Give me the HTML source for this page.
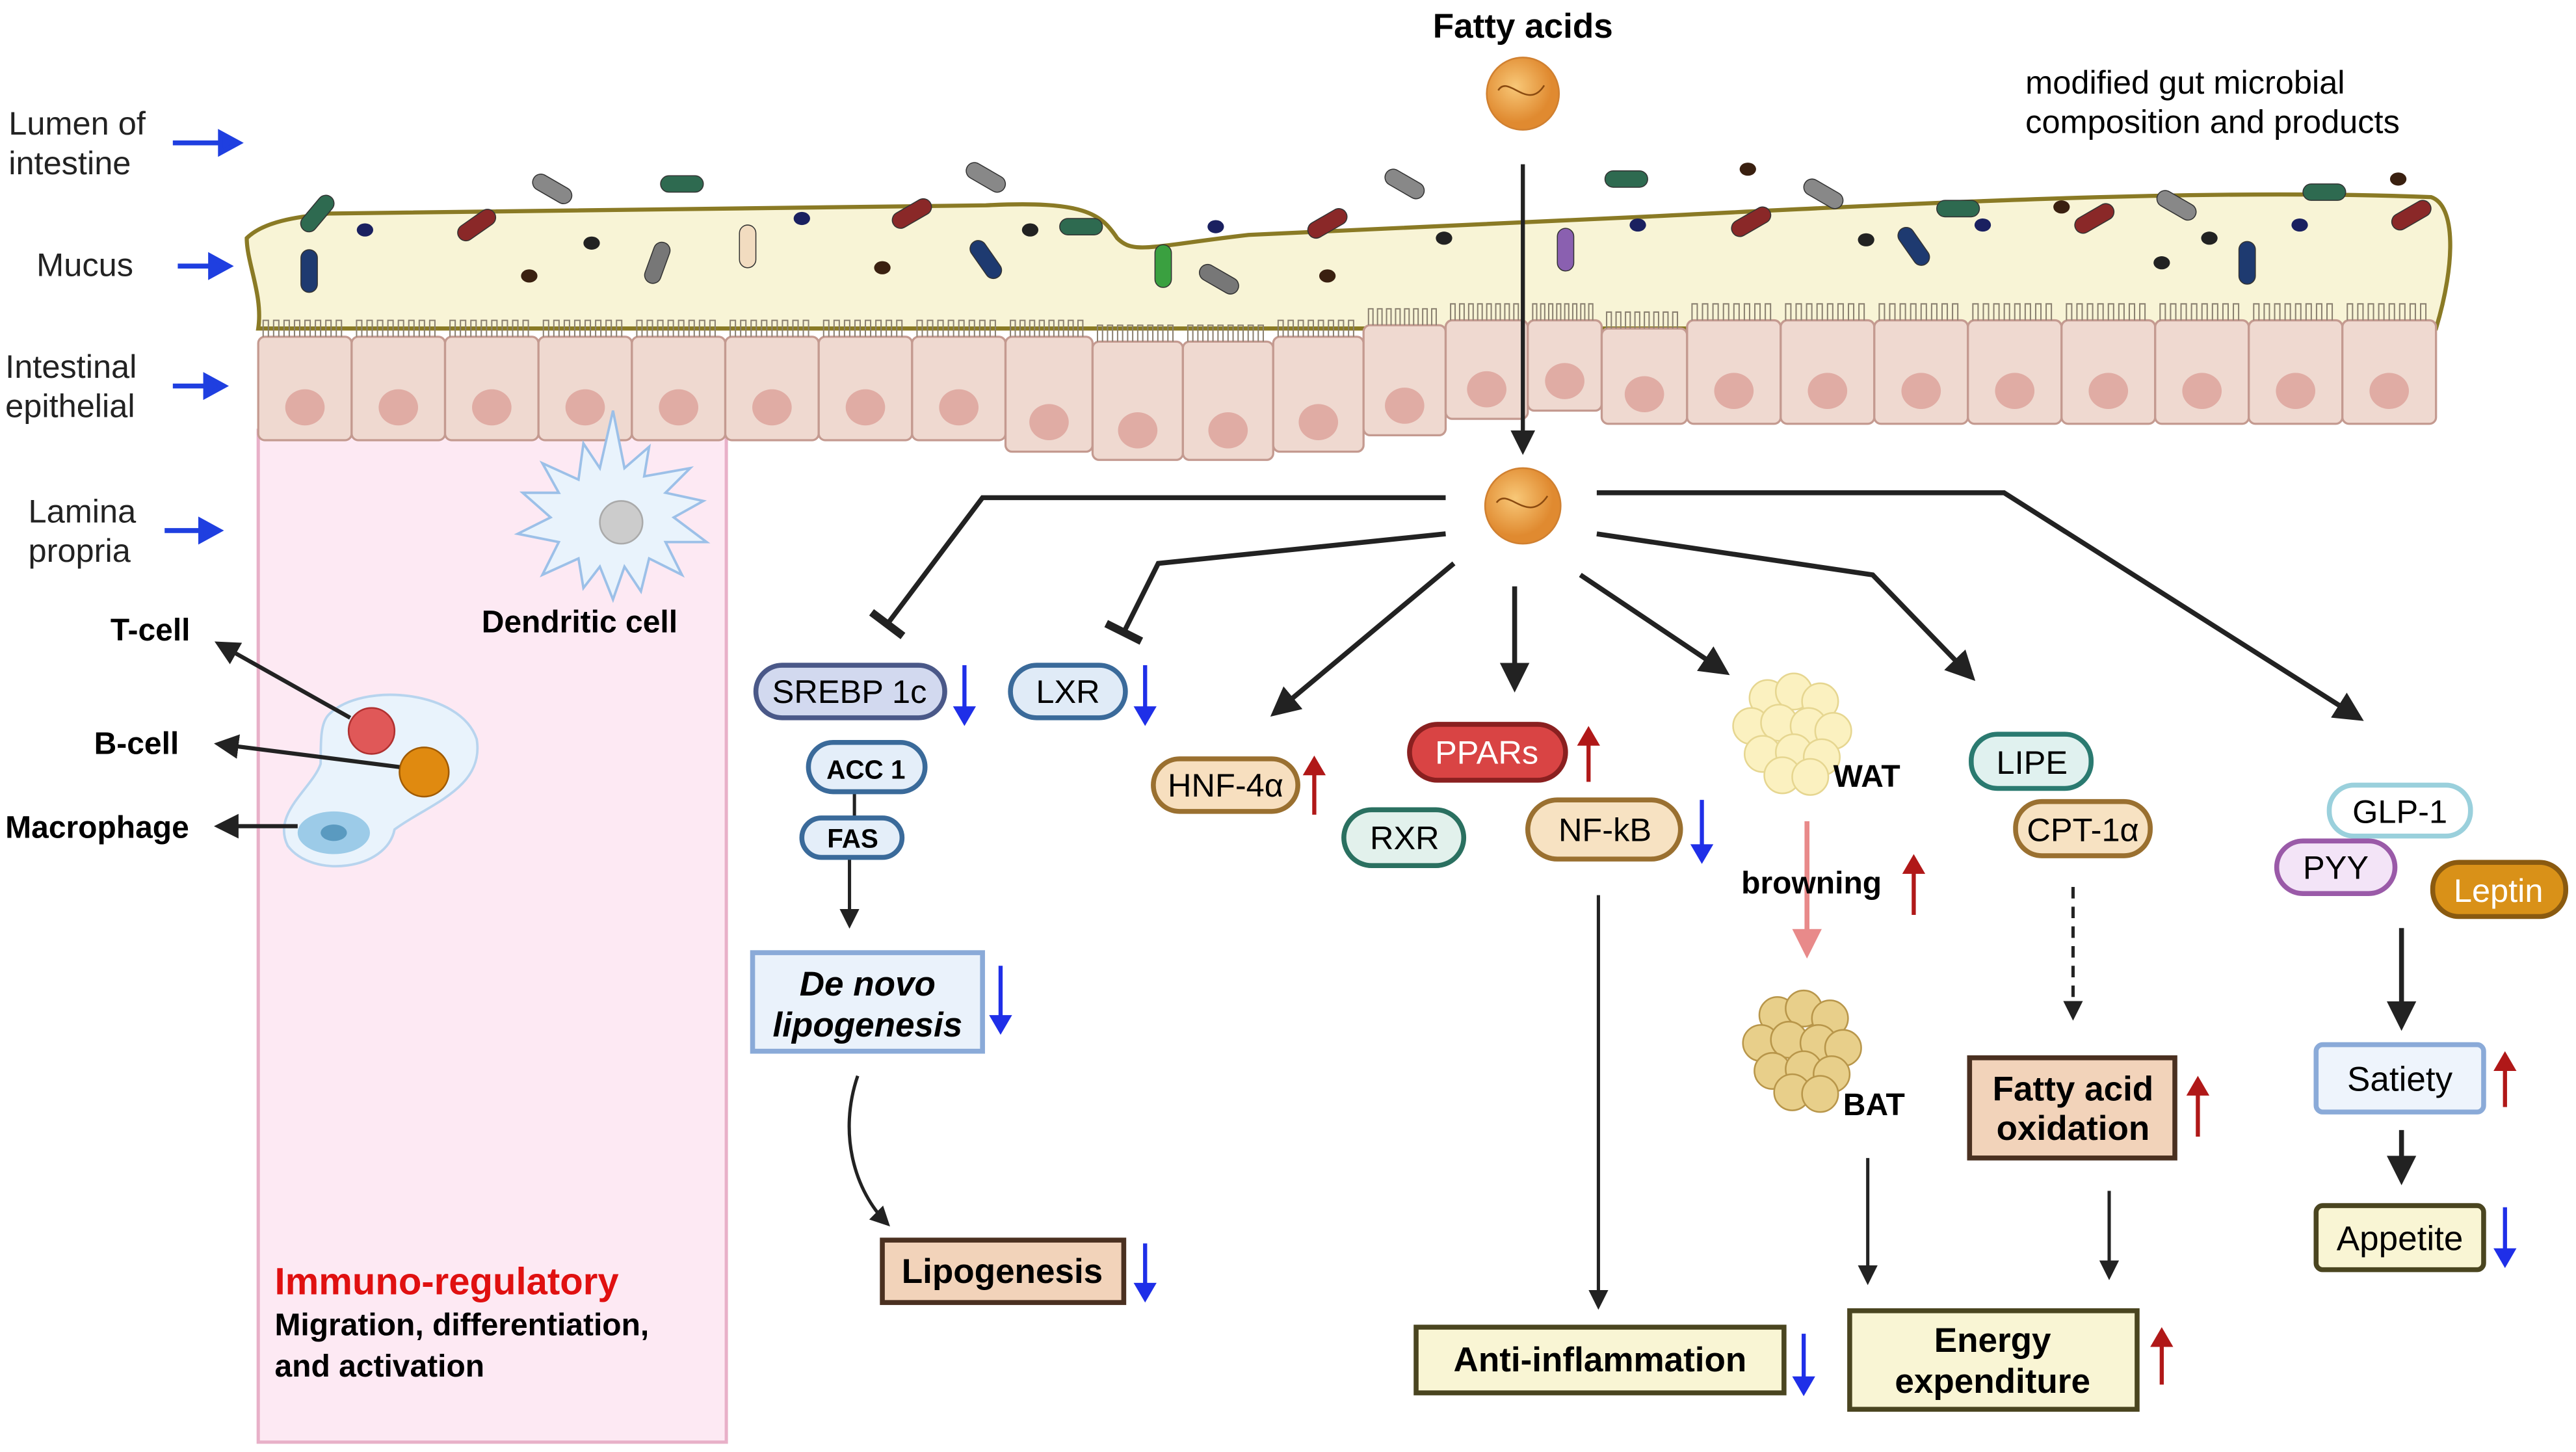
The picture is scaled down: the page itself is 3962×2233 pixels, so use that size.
<!DOCTYPE html>
<html><head><meta charset="utf-8"><style>
html,body{margin:0;padding:0;background:#fff;}
svg{display:block;}
text{font-family:"Liberation Sans",Arial,sans-serif;}
</style></head><body>
<svg id="s" width="3962" height="2233" viewBox="0 0 1568 884" xmlns="http://www.w3.org/2000/svg">
<defs>
<marker id="ah" viewBox="0 0 10 10" refX="8" refY="5" markerWidth="6" markerHeight="6" orient="auto"><path d="M0,0L10,5L0,10z" fill="#222"/></marker>
<marker id="tb" viewBox="0 0 10 10" refX="5" refY="5" markerWidth="8" markerHeight="8" orient="auto"><path d="M5,0L5,10" stroke="#222" stroke-width="2"/></marker>
<marker id="ahp" viewBox="0 0 10 10" refX="8" refY="5" markerWidth="6" markerHeight="6" orient="auto"><path d="M0,0L10,5L0,10z" fill="#e88a8a"/></marker>
<radialGradient id="fa" cx="0.4" cy="0.4"><stop offset="0" stop-color="#f8c878"/><stop offset="1" stop-color="#e08a30"/></radialGradient>
</defs>
<rect x="157" y="262" width="285" height="616" fill="#fde9f3" stroke="#e8b0c8" stroke-width="2"/>
<path d="M150,145 C160,135 180,132 200,130 L600,125 C660,122 670,130 680,145 C690,155 700,150 760,143 L1000,132 C1200,122 1350,115 1480,120 C1495,125 1495,160 1483,200 L157,200 C160,180 150,160 150,145z" fill="#f8f4d6" stroke="#8a7a25" stroke-width="2.5"/>
<g id="cells"></g>
<g id="bugs"></g>
<g font-size="20" fill="#222">
<text x="5" y="82">Lumen of</text><text x="5" y="106">intestine</text>
<text x="22" y="168">Mucus</text>
<text x="3" y="230">Intestinal</text><text x="3" y="254">epithelial</text>
<text x="17" y="318">Lamina</text><text x="17" y="342">propria</text>
</g>
<g stroke="#1f3fe0" stroke-width="3" fill="#1f3fe0">
<line x1="105" y1="87" x2="136" y2="87"/><path d="M145,87L134,81L134,93z"/>
<line x1="108" y1="162" x2="130" y2="162"/><path d="M139,162L128,156L128,168z"/>
<line x1="105" y1="235" x2="127" y2="235"/><path d="M136,235L125,229L125,241z"/>
<line x1="100" y1="323" x2="124" y2="323"/><path d="M133,323L122,317L122,329z"/>
</g>
<path d="M373,250 L380,285 L395,272 L392,290 L420,285 L405,300 L428,305 L410,315 L430,330 L405,330 L415,350 L395,340 L390,360 L380,345 L373,365 L365,345 L355,358 L352,340 L330,350 L340,330 L315,325 L335,315 L318,300 L340,300 L330,282 L352,292 L355,270 L365,285z" fill="#e9f3fc" stroke="#9cc0e8" stroke-width="1.5"/>
<circle cx="378" cy="318" r="13" fill="#ccc" stroke="#aaa"/>
<text x="293" y="385" font-size="19" font-weight="bold">Dendritic cell</text>
<path d="M200,435 C220,415 280,420 290,450 C295,480 260,490 240,505 C235,530 190,535 175,515 C165,495 190,480 195,465 C195,450 195,440 200,435z" fill="#e9f3fc" stroke="#b8d4ee" stroke-width="1.5"/>
<circle cx="226" cy="445" r="14" fill="#e05858" stroke="#b03030"/>
<circle cx="258" cy="470" r="15" fill="#e08a10" stroke="#a05a00"/>
<ellipse cx="203" cy="507" rx="22" ry="13" fill="#9ccbe8"/><ellipse cx="203" cy="507" rx="8" ry="5" fill="#5a9ac0"/>
<g stroke="#222" stroke-width="2.5" fill="none">
<line x1="213" y1="437" x2="133" y2="392" marker-end="url(#ah)"/>
<line x1="243" y1="467" x2="133" y2="453" marker-end="url(#ah)"/>
<line x1="181" y1="503" x2="133" y2="503" marker-end="url(#ah)"/>
</g>
<g font-size="19" font-weight="bold"><text x="67" y="390">T-cell</text><text x="57" y="459">B-cell</text><text x="3" y="510">Macrophage</text></g>
<text x="167" y="788" font-size="23" font-weight="bold" fill="#e01010">Immuno-regulatory</text>
<text x="167" y="813" font-size="19" font-weight="bold">Migration, differentiation,</text>
<text x="167" y="838" font-size="19" font-weight="bold">and activation</text>
<text x="927" y="23" font-size="21" font-weight="bold" text-anchor="middle">Fatty acids</text>
<circle cx="927" cy="57" r="22" fill="url(#fa)" stroke="#d08030"/>
<path d="M912,55 C918,45 930,68 940,52" stroke="#8a4a10" fill="none"/>
<line x1="927" y1="100" x2="927" y2="274" stroke="#222" stroke-width="2.5" marker-end="url(#ah)"/>
<circle cx="927" cy="308" r="23" fill="url(#fa)" stroke="#d08030"/>
<path d="M911,306 C918,296 930,320 942,302" stroke="#8a4a10" fill="none"/>
<text x="1233" y="57" font-size="20">modified gut microbial</text>
<text x="1233" y="81" font-size="20">composition and products</text>
<g id="fat"></g>
<g stroke="#222" stroke-width="3" fill="none">
<polyline points="880,303 598,303 540,380" marker-end="url(#tb)"/>
<polyline points="880,325 705,343 684,385" marker-end="url(#tb)"/>
<line x1="885" y1="343" x2="776" y2="434" marker-end="url(#ah)"/>
<line x1="922" y1="357" x2="922" y2="418" marker-end="url(#ah)"/>
<line x1="962" y1="350" x2="1050" y2="409" marker-end="url(#ah)"/>
<polyline points="972,325 1140,350 1200,412" marker-end="url(#ah)"/>
<polyline points="972,300 1220,300 1436,437" marker-end="url(#ah)"/>
</g>
<g stroke="#222" stroke-width="2" fill="none">
<line x1="517" y1="522" x2="517" y2="563" marker-end="url(#ah)"/>
<line x1="520" y1="482" x2="520" y2="498"/>
<path d="M522,655 C510,690 520,725 540,745" marker-end="url(#ah)"/>
<line x1="973" y1="545" x2="973" y2="795" marker-end="url(#ah)"/>
<line x1="1137" y1="705" x2="1137" y2="780" marker-end="url(#ah)"/>
<line x1="1262" y1="540" x2="1262" y2="619" stroke-dasharray="7,5" marker-end="url(#ah)"/>
<line x1="1284" y1="725" x2="1284" y2="777" marker-end="url(#ah)"/>
<line x1="1462" y1="565" x2="1462" y2="624" stroke-width="3" marker-end="url(#ah)"/>
<line x1="1462" y1="688" x2="1462" y2="718" stroke-width="3" marker-end="url(#ah)"/>
</g>
<line x1="1100" y1="500" x2="1100" y2="580" stroke="#e88a8a" stroke-width="3" marker-end="url(#ahp)"/>
<g font-size="20" text-anchor="middle" stroke-width="3">
<rect x="460" y="405" width="115" height="32" rx="16" fill="#d2d9ef" stroke="#4a5888"/><text x="517" y="428" stroke="none">SREBP 1c</text>
<rect x="492" y="452" width="71" height="30" rx="15" fill="#e4eef9" stroke="#3a6a9a"/><text x="527" y="474" stroke="none" font-size="16" font-weight="bold">ACC 1</text>
<rect x="488" y="498" width="61" height="24" rx="12" fill="#e4eef9" stroke="#3a6a9a"/><text x="519" y="516" stroke="none" font-size="16" font-weight="bold">FAS</text>
<rect x="615" y="405" width="70" height="32" rx="16" fill="#e0ebf7" stroke="#3a6a9a"/><text x="650" y="428" stroke="none">LXR</text>
<rect x="702" y="462" width="88" height="32" rx="16" fill="#f7dfbf" stroke="#9a7030"/><text x="746" y="485" stroke="none">HNF-4α</text>
<rect x="858" y="441" width="95" height="34" rx="17" fill="#d94444" stroke="#8a2020"/><text x="905" y="465" stroke="none" fill="#fff">PPARs</text>
<rect x="818" y="493" width="73" height="34" rx="17" fill="#e2f1ec" stroke="#2a7060"/><text x="855" y="517" stroke="none">RXR</text>
<rect x="930" y="487" width="93" height="36" rx="18" fill="#f7e2c2" stroke="#9a7030"/><text x="977" y="512" stroke="none">NF-kB</text>
<rect x="1200" y="447" width="73" height="33" rx="16" fill="#e0f1ef" stroke="#2a7a70"/><text x="1237" y="471" stroke="none">LIPE</text>
<rect x="1227" y="488" width="82" height="33" rx="16" fill="#f7e2c2" stroke="#9a7030"/><text x="1268" y="512" stroke="none">CPT-1α</text>
<rect x="1418" y="478" width="86" height="31" rx="15" fill="#fff" stroke="#9ad0dc"/><text x="1461" y="501" stroke="none">GLP-1</text>
<rect x="1386" y="512" width="72" height="32" rx="16" fill="#f3e4f7" stroke="#9a5aa8"/><text x="1422" y="535" stroke="none">PYY</text>
<rect x="1481" y="525" width="81" height="33" rx="16" fill="#d99118" stroke="#8a5a10"/><text x="1521" y="549" stroke="none" fill="#fff">Leptin</text>
</g>
<g stroke-width="3">
<rect x="458" y="580" width="140" height="60" fill="#eaf2fb" stroke="#8aaad8"/>
<rect x="537" y="755" width="147" height="38" fill="#f2d3ba" stroke="#4a3020"/>
<rect x="862" y="808" width="224" height="40" fill="#f9f5d4" stroke="#4a4520"/>
<rect x="1126" y="798" width="175" height="60" fill="#f9f5d4" stroke="#4a4520"/>
<rect x="1199" y="644" width="125" height="61" fill="#f2d3ba" stroke="#4a3020"/>
<rect x="1410" y="636" width="102" height="41" rx="4" fill="#eef4fc" stroke="#8aaad8"/>
<rect x="1410" y="734" width="102" height="39" rx="4" fill="#f9f5d4" stroke="#4a4520"/>
</g>
<g font-size="21" font-weight="bold" text-anchor="middle">
<text x="528" y="606" font-style="italic">De novo</text><text x="528" y="631" font-style="italic">lipogenesis</text>
<text x="610" y="781">Lipogenesis</text>
<text x="974" y="835">Anti-inflammation</text>
<text x="1213" y="823">Energy</text><text x="1213" y="848">expenditure</text>
<text x="1262" y="670">Fatty acid</text><text x="1262" y="694">oxidation</text>
</g>
<g font-size="21" text-anchor="middle"><text x="1461" y="664">Satiety</text><text x="1461" y="761">Appetite</text></g>
<g font-size="19" font-weight="bold"><text x="1116" y="479">WAT</text><text x="1060" y="544">browning</text><text x="1122" y="679">BAT</text></g>
<g id="ud"></g>
</svg>
<script>
var NS="http://www.w3.org/2000/svg";
function el(p,t,a){var e=document.createElementNS(NS,t);for(var k in a)e.setAttribute(k,a[k]);document.getElementById(p).appendChild(e);return e;}
function cellRow(x0,x1,y0,y1,n){var w=(x1-x0)/n;for(var i=0;i<n;i++){var x=x0+i*w;
 el("cells","rect",{x:x,y:y0,width:w,height:y1-y0,rx:4,fill:"#efd9d0",stroke:"#c49a90","stroke-width":1.3});
 el("cells","ellipse",{cx:x+w/2,cy:y1-20,rx:12,ry:11,fill:"#e0aca4"});
 var d="";for(var j=0;j<8;j++){var mx=x+3+j*(w-6)/8;d+="M"+mx+","+y0+"v-10h"+((w-6)/16)+"v10";}
 el("cells","path",{d:d,stroke:"#8a8070",fill:"none","stroke-width":0.8});}}
cellRow(157,612,205,268,8);
var segs=[[612,205,275],[665,208,280],[720,208,280],[775,205,275],[830,198,265],[880,195,255],[930,195,250],[975,200,258]];
segs.forEach(function(s,i){var x=s[0],w=(i==segs.length-1?52:(segs[i+1][0]-x));
 el("cells","rect",{x:x,y:s[1],width:w,height:s[2]-s[1],rx:4,fill:"#efd9d0",stroke:"#c49a90","stroke-width":1.3});
 el("cells","ellipse",{cx:x+w/2,cy:s[2]-18,rx:12,ry:11,fill:"#e0aca4"});
 var d="";for(var j=0;j<8;j++){var mx=x+3+j*(w-6)/8;d+="M"+mx+","+s[1]+"v-10h"+((w-6)/16)+"v10";}
 el("cells","path",{d:d,stroke:"#8a8070",fill:"none","stroke-width":0.8});});
cellRow(1027,1483,195,258,8);
var bugs=[[193,130,-50,"#2e6a50"],[188,165,90,"#1e3a70"],[290,137,-35,"#8a2828"],[336,115,30,"#888"],[415,112,0,"#2e6a50"],[400,160,-70,"#777"],[455,150,90,"#f2dcc0"],[555,130,-30,"#8a2828"],[600,108,30,"#888"],[600,158,55,"#1e3a70"],[658,138,0,"#2e6a50"],[708,162,90,"#3aa040"],[742,170,30,"#777"],[808,136,-30,"#8a2828"],[855,112,30,"#888"],[990,109,0,"#2e6a50"],[953,152,90,"#8a60b0"],[1066,135,-30,"#8a2828"],[1110,118,30,"#888"],[1192,127,0,"#2e6a50"],[1165,150,55,"#1e3a70"],[1275,133,-30,"#8a2828"],[1325,125,30,"#888"],[1415,117,0,"#2e6a50"],[1368,160,90,"#1e3a70"],[1468,131,-30,"#8a2828"]];
bugs.forEach(function(b){el("bugs","rect",{x:b[0]-13,y:b[1]-5,width:26,height:10,rx:5,fill:b[3],stroke:"#333","stroke-width":0.6,transform:"rotate("+b[2]+" "+b[0]+" "+b[1]+")"});});
var dots=[[222,140,"#1a2060"],[322,168,"#3a2010"],[360,148,"#222"],[488,133,"#1a2060"],[537,163,"#3a2010"],[627,140,"#222"],[740,138,"#1a2060"],[808,168,"#3a2010"],[879,145,"#222"],[997,137,"#1a2060"],[1064,103,"#3a2010"],[1136,146,"#222"],[1207,137,"#1a2060"],[1255,126,"#3a2010"],[1316,160,"#222"],[1400,137,"#1a2060"],[1460,109,"#3a2010"],[1345,145,"#222"]];
dots.forEach(function(d){el("bugs","ellipse",{cx:d[0],cy:d[1],rx:5,ry:4,fill:d[2]});});
function fat(cx,cy,c,s){var pts=[[-16,-22],[0,-26],[16,-20],[-26,-5],[-9,-7],[9,-5],[24,-2],[-19,12],[0,11],[17,14],[-7,25],[10,26]];
 pts.forEach(function(p){el("fat","circle",{cx:cx+p[0],cy:cy+p[1],r:11,fill:c,stroke:s,"stroke-width":1});});}
fat(1092,447,"#fbf1c0","#e6d690");fat(1098,640,"#e8cf8a","#b8964a");
function ud(x,y1,y2,c){el("ud","line",{x1:x,y1:y1,x2:x,y2:(y2>y1?y2-10:y2+10),stroke:c,"stroke-width":2.5});
 var t=y2>y1?"M"+(x-7)+","+(y2-12)+"L"+(x+7)+","+(y2-12)+"L"+x+","+y2+"z":"M"+(x-7)+","+(y2+12)+"L"+(x+7)+","+(y2+12)+"L"+x+","+y2+"z";
 el("ud","path",{d:t,fill:c});}
var B="#1f2fe8",R="#b01818";
ud(587,405,442,B);ud(697,405,442,B);ud(800,496,460,R);ud(967,476,442,R);ud(1036,487,526,B);
ud(609,588,630,B);ud(697,757,793,B);ud(1098,812,850,B);ud(1165,557,520,R);ud(1316,843,808,R);
ud(1338,692,655,R);ud(1525,674,640,R);ud(1525,735,772,B);
</script>
</body></html>
